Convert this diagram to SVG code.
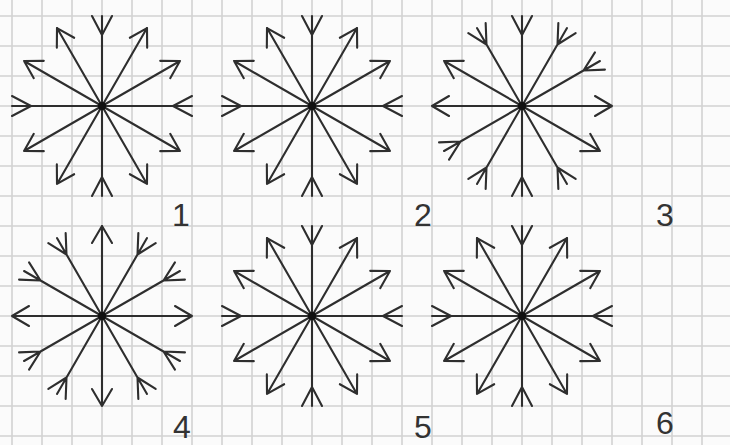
<svg xmlns="http://www.w3.org/2000/svg" xmlns:xlink="http://www.w3.org/1999/xlink" width="730" height="445" viewBox="0 0 730 445">
<style>
.grid line{stroke:#d2d2d2;stroke-width:1.6}
.arm{fill:none;stroke:#2e2e2e;stroke-width:2.1;stroke-linecap:round;stroke-linejoin:round}
.dot{fill:#111}
.num{font-family:"Liberation Sans",Arial,sans-serif;font-size:32px;fill:#333}
</style>
<defs>
<path id="ar" class="arm" d="M0,0H90M90,0l-17,-10M90,0l-17,10"/>
<path id="fe" class="arm" d="M0,0H90M71,0l19,-10M71,0l19,10"/>
</defs>
<rect width="730" height="445" fill="#fbfbfb"/>
<g class="grid">
<line x1="12" y1="0" x2="12" y2="445"/><line x1="42" y1="0" x2="42" y2="445"/><line x1="72" y1="0" x2="72" y2="445"/><line x1="102" y1="0" x2="102" y2="445"/><line x1="132" y1="0" x2="132" y2="445"/><line x1="162" y1="0" x2="162" y2="445"/><line x1="192" y1="0" x2="192" y2="445"/><line x1="222" y1="0" x2="222" y2="445"/><line x1="252" y1="0" x2="252" y2="445"/><line x1="282" y1="0" x2="282" y2="445"/><line x1="312" y1="0" x2="312" y2="445"/><line x1="342" y1="0" x2="342" y2="445"/><line x1="372" y1="0" x2="372" y2="445"/><line x1="402" y1="0" x2="402" y2="445"/><line x1="432" y1="0" x2="432" y2="445"/><line x1="462" y1="0" x2="462" y2="445"/><line x1="492" y1="0" x2="492" y2="445"/><line x1="522" y1="0" x2="522" y2="445"/><line x1="552" y1="0" x2="552" y2="445"/><line x1="582" y1="0" x2="582" y2="445"/><line x1="612" y1="0" x2="612" y2="445"/><line x1="642" y1="0" x2="642" y2="445"/><line x1="672" y1="0" x2="672" y2="445"/><line x1="702" y1="0" x2="702" y2="445"/>
<line x1="0" y1="16" x2="730" y2="16"/><line x1="0" y1="46" x2="730" y2="46"/><line x1="0" y1="76" x2="730" y2="76"/><line x1="0" y1="106" x2="730" y2="106"/><line x1="0" y1="136" x2="730" y2="136"/><line x1="0" y1="166" x2="730" y2="166"/><line x1="0" y1="196" x2="730" y2="196"/><line x1="0" y1="226" x2="730" y2="226"/><line x1="0" y1="256" x2="730" y2="256"/><line x1="0" y1="286" x2="730" y2="286"/><line x1="0" y1="316" x2="730" y2="316"/><line x1="0" y1="346" x2="730" y2="346"/><line x1="0" y1="376" x2="730" y2="376"/><line x1="0" y1="406" x2="730" y2="406"/><line x1="0" y1="436" x2="730" y2="436"/>
</g>
<g id="flake1" transform="translate(102,106)">
<use href="#fe"/><use href="#ar" transform="rotate(-30)"/><use href="#ar" transform="rotate(-60)"/><use href="#fe" transform="rotate(-90)"/><use href="#ar" transform="rotate(-120)"/><use href="#ar" transform="rotate(-150)"/><use href="#fe" transform="rotate(180)"/><use href="#ar" transform="rotate(150)"/><use href="#ar" transform="rotate(120)"/><use href="#fe" transform="rotate(90)"/><use href="#ar" transform="rotate(60)"/><use href="#ar" transform="rotate(30)"/>
<circle class="dot" r="4"/>
</g>
<g id="flake2" transform="translate(312,106)">
<use href="#fe"/><use href="#ar" transform="rotate(-30)"/><use href="#ar" transform="rotate(-60)"/><use href="#fe" transform="rotate(-90)"/><use href="#ar" transform="rotate(-120)"/><use href="#ar" transform="rotate(-150)"/><use href="#fe" transform="rotate(180)"/><use href="#ar" transform="rotate(150)"/><use href="#ar" transform="rotate(120)"/><use href="#fe" transform="rotate(90)"/><use href="#ar" transform="rotate(60)"/><use href="#ar" transform="rotate(30)"/>
<circle class="dot" r="4"/>
</g>
<g id="flake3" transform="translate(522,106)">
<use href="#ar"/><use href="#fe" transform="rotate(-30)"/><use href="#fe" transform="rotate(-60)"/><use href="#fe" transform="rotate(-90)"/><use href="#fe" transform="rotate(-120)"/><use href="#ar" transform="rotate(-150)"/><use href="#ar" transform="rotate(180)"/><use href="#fe" transform="rotate(150)"/><use href="#fe" transform="rotate(120)"/><use href="#fe" transform="rotate(90)"/><use href="#fe" transform="rotate(60)"/><use href="#ar" transform="rotate(30)"/>
<circle class="dot" r="4"/>
</g>
<g id="flake4" transform="translate(102,316)">
<use href="#ar"/><use href="#fe" transform="rotate(-30)"/><use href="#fe" transform="rotate(-60)"/><use href="#ar" transform="rotate(-90)"/><use href="#fe" transform="rotate(-120)"/><use href="#fe" transform="rotate(-150)"/><use href="#ar" transform="rotate(180)"/><use href="#fe" transform="rotate(150)"/><use href="#fe" transform="rotate(120)"/><use href="#ar" transform="rotate(90)"/><use href="#fe" transform="rotate(60)"/><use href="#fe" transform="rotate(30)"/>
<circle class="dot" r="4"/>
</g>
<g id="flake5" transform="translate(312,316)">
<use href="#fe"/><use href="#ar" transform="rotate(-30)"/><use href="#ar" transform="rotate(-60)"/><use href="#fe" transform="rotate(-90)"/><use href="#ar" transform="rotate(-120)"/><use href="#ar" transform="rotate(-150)"/><use href="#fe" transform="rotate(180)"/><use href="#ar" transform="rotate(150)"/><use href="#ar" transform="rotate(120)"/><use href="#fe" transform="rotate(90)"/><use href="#ar" transform="rotate(60)"/><use href="#ar" transform="rotate(30)"/>
<circle class="dot" r="4"/>
</g>
<g id="flake6" transform="translate(522,316)">
<use href="#fe"/><use href="#ar" transform="rotate(-30)"/><use href="#ar" transform="rotate(-60)"/><use href="#fe" transform="rotate(-90)"/><use href="#ar" transform="rotate(-120)"/><use href="#ar" transform="rotate(-150)"/><use href="#fe" transform="rotate(180)"/><use href="#ar" transform="rotate(150)"/><use href="#ar" transform="rotate(120)"/><use href="#fe" transform="rotate(90)"/><use href="#ar" transform="rotate(60)"/><use href="#ar" transform="rotate(30)"/>
<circle class="dot" r="4"/>
</g>
<g id="labels">
<text class="num" x="172" y="226">1</text>
<text class="num" x="414" y="226">2</text>
<text class="num" x="656" y="226">3</text>
<text class="num" x="173" y="438">4</text>
<text class="num" x="414" y="438">5</text>
<text class="num" x="656" y="434">6</text>
</g>
</svg>
